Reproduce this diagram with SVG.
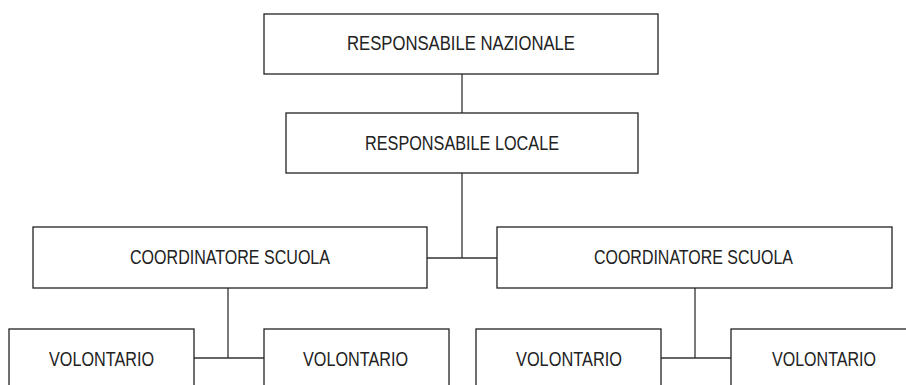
<svg xmlns="http://www.w3.org/2000/svg" width="906" height="385" viewBox="0 0 906 385">
<style>
.box{fill:#fff;stroke:#222;stroke-width:1.3}
.lbl{font-family:"Liberation Sans Narrow","Liberation Sans",Arial,sans-serif;font-size:20px;fill:#222;text-anchor:middle}
.conn{stroke:#333;stroke-width:1.3;fill:none}
</style>
<rect width="906" height="385" fill="#fff"/>
<g id="connectors">
<path class="conn" d="M462 74V113"/>
<path class="conn" d="M462 173V258M427 258H497"/>
<path class="conn" d="M228 288V358M194 358H264"/>
<path class="conn" d="M695 288V358M661 358H731"/>
</g>
<g id="n-nazionale"><rect class="box" x="264" y="14" width="394" height="60"/><text class="lbl" x="461" y="50" textLength="228" lengthAdjust="spacingAndGlyphs">RESPONSABILE NAZIONALE</text></g>
<g id="n-locale"><rect class="box" x="286" y="113" width="352" height="60"/><text class="lbl" x="462" y="150" textLength="194" lengthAdjust="spacingAndGlyphs">RESPONSABILE LOCALE</text></g>
<g id="n-coord1"><rect class="box" x="33" y="227" width="394" height="61"/><text class="lbl" x="230" y="264" textLength="200" lengthAdjust="spacingAndGlyphs">COORDINATORE SCUOLA</text></g>
<g id="n-coord2"><rect class="box" x="497" y="227" width="395" height="61"/><text class="lbl" x="693.5" y="264" textLength="199" lengthAdjust="spacingAndGlyphs">COORDINATORE SCUOLA</text></g>
<g id="n-vol1"><rect class="box" x="9" y="329" width="185" height="70"/><text class="lbl" x="101.5" y="366" textLength="105" lengthAdjust="spacingAndGlyphs">VOLONTARIO</text></g>
<g id="n-vol2"><rect class="box" x="264" y="329" width="185" height="70"/><text class="lbl" x="355.5" y="366" textLength="105" lengthAdjust="spacingAndGlyphs">VOLONTARIO</text></g>
<g id="n-vol3"><rect class="box" x="476" y="329" width="185" height="70"/><text class="lbl" x="569" y="366" textLength="106" lengthAdjust="spacingAndGlyphs">VOLONTARIO</text></g>
<g id="n-vol4"><rect class="box" x="731" y="329" width="185" height="70"/><text class="lbl" x="824" y="366" textLength="104" lengthAdjust="spacingAndGlyphs">VOLONTARIO</text></g>
</svg>
